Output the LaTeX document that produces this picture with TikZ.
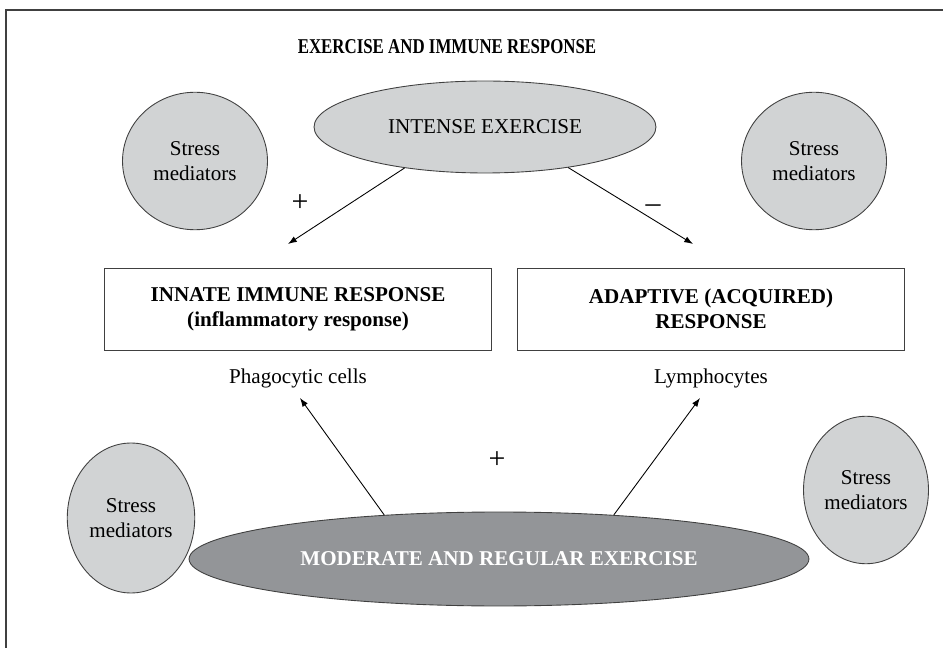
\documentclass[tikz,border=0pt]{standalone}
\usepackage{fontspec}
\setmainfont{Liberation Serif}
\usetikzlibrary{shapes.geometric,arrows.meta}

\definecolor{lightgrey}{HTML}{D1D3D4}
\definecolor{darkgrey}{HTML}{939598}
\definecolor{edgegrey}{HTML}{404040}

\tikzset{
  stressnode/.style={ellipse,draw=edgegrey,fill=lightgrey,line width=0.5pt,
    minimum width=2.9cm,minimum height=2.75cm,inner sep=0pt,align=center,
    font=\fontsize{12}{14}\selectfont},
  boxnode/.style={rectangle,draw=edgegrey,line width=0.5pt,minimum width=7.75cm,
    minimum height=1.64cm,align=center,font=\fontsize{12}{14}\selectfont\bfseries},
  plainlabel/.style={font=\fontsize{12}{14}\selectfont},
  signlabel/.style={font=\fontsize{17}{19}\selectfont},
  arr/.style={->,line width=0.5pt},
  >={Latex[length=5pt,width=3.6pt]}
}

\begin{document}
\begin{tikzpicture}[x=0.02cm,y=-0.02cm]
        \useasboundingbox (0,0) rectangle (943,648);
        % frame, only top and left edges show
        \draw[edgegrey,line width=1pt] (6,648) -- (6,10) -- (943,10);
        \node (title) at (447,47) {\fontsize{12}{14}\selectfont\bfseries\scalebox{0.8}[1]{EXERCISE AND IMMUNE RESPONSE}};
        % exercise ellipses
        \node[ellipse,draw=edgegrey,fill=lightgrey,line width=0.5pt,minimum width=6.84cm,minimum height=1.84cm,inner sep=0pt,font=\fontsize{12}{14}\selectfont] (intense) at (485,127) {INTENSE EXERCISE};
        \node[ellipse,draw=edgegrey,fill=darkgrey,line width=0.5pt,minimum width=12.4cm,minimum height=1.88cm,inner sep=0pt,text=white,font=\fontsize{12}{14}\selectfont\bfseries] (moderate) at (499,559) {MODERATE AND REGULAR EXERCISE};
        % stress mediators
        \node[stressnode] (stressTL) at (195,161) {Stress\\mediators};
        \node[stressnode] (stressTR) at (814,161) {Stress\\mediators};
        \node[stressnode,minimum width=2.55cm,minimum height=3cm] (stressBL) at (131,518) {Stress\\mediators};
        \node[stressnode,minimum width=2.5cm,minimum height=2.95cm] (stressBR) at (866,490) {Stress\\mediators};
        % response boxes
        \node[boxnode] (innate) at (298,309) {INNATE IMMUNE RESPONSE\\(inflammatory response)};
        \node[boxnode] (adaptive) at (711,309) {ADAPTIVE (ACQUIRED)\\RESPONSE};
        \node[plainlabel] (phago) at (298,378) {Phagocytic cells};
        \node[plainlabel] (lympho) at (711,378) {Lymphocytes};
        % arrow ends
        \coordinate (tipTL) at (288,244);
        \coordinate (tipTR) at (693,244);
        \coordinate (tipBL) at (300,398);
        \coordinate (tipBR) at (700,398);
        \draw[arr] (intense.207) -- (tipTL);
        \draw[arr] (intense.334) -- (tipTR);
        \draw[arr] (moderate.159) -- (tipBL);
        \draw[arr] (moderate.21.6) -- (tipBR);
        % signs
        \node[signlabel] (plusTop) at (300,203) {+};
        \node[signlabel] (minusTop) at (653,209) {\textendash};
        \node[signlabel] (plusBottom) at (497,460) {+};
    \end{tikzpicture}
\end{document}
